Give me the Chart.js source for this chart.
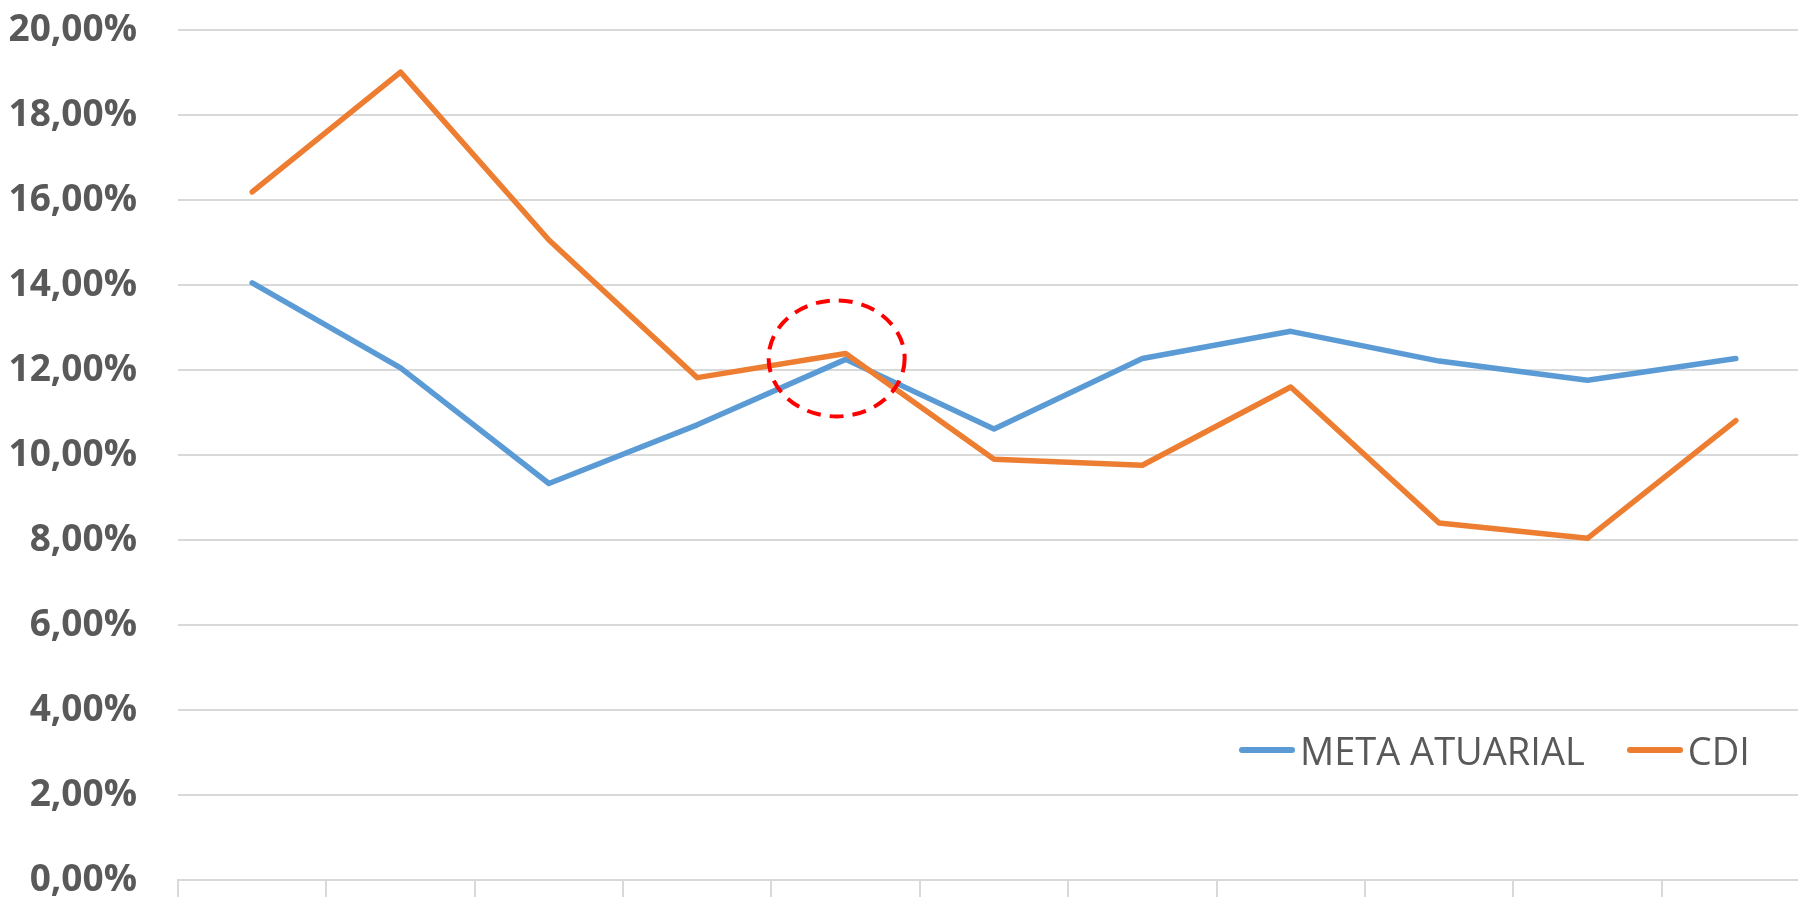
<!DOCTYPE html>
<html>
<head>
<meta charset="utf-8">
<script src="https://cdn.jsdelivr.net/npm/chart.js@4.4.1/dist/chart.umd.min.js"></script>
<style>
  html, body { margin: 0; padding: 0; background: #fff; overflow: hidden; }
  #wrap { position: relative; width: 1812px; height: 897px; }
  #legend {
    position: absolute; left: 1239px; top: 724px;
    display: flex; align-items: center;
    font-family: "Open Sans", sans-serif; font-size: 38px; color: #595959;
  }
  #legend .item { display: flex; align-items: center; margin-right: 42px; }
  #legend .swatch { width: 56px; height: 6px; border-radius: 3px; margin-right: 5px; }
</style>
</head>
<body>
<div id="wrap">
  <canvas id="chart"></canvas>
  <div id="legend"></div>
</div>
<script>
// 11 periodos, sem rotulos no eixo X
const categories = ["", "", "", "", "", "", "", "", "", "", ""];
const metaAtuarial = [14.05, 12.05, 9.33, 10.71, 12.25, 10.61, 12.27, 12.91, 12.21, 11.76, 12.27];
const cdi = [16.19, 19.01, 15.06, 11.82, 12.39, 9.90, 9.76, 11.60, 8.40, 8.04, 10.81];
const yTicks = [0, 2, 4, 6, 8, 10, 12, 14, 16, 18, 20];
const destaqueIndex = 4; // ponto circulado em vermelho

const series = [
  { label: "META ATUARIAL", data: metaAtuarial, color: "#5b9bd5", order: 2 },
  { label: "CDI", data: cdi, color: "#ed7d31", order: 1 },
];

// circulo tracejado vermelho em volta do ponto destacado
const circlePlugin = {
  id: "destaque",
  afterDatasetsDraw(chart) {
    const x = chart.scales.x.getPixelForValue(destaqueIndex);
    const y = chart.scales.y.getPixelForValue(cdi[destaqueIndex]);
    const ctx = chart.ctx;
    ctx.save();
    ctx.strokeStyle = "#ff0000";
    ctx.lineWidth = 4;
    ctx.setLineDash([14, 9]);
    ctx.beginPath();
    ctx.ellipse(x - 9, y + 5, 68, 58, 0, 0, Math.PI * 2);
    ctx.stroke();
    ctx.restore();
  },
};

const ctx = document.getElementById("chart").getContext("2d");
new Chart(ctx, {
  type: "line",
  data: {
    labels: categories,
    datasets: series.map((s) => ({
      label: s.label,
      data: s.data,
      borderColor: s.color,
      backgroundColor: s.color,
      borderWidth: 5.5,
      borderCapStyle: "round",
      borderJoinStyle: "round",
      pointRadius: 0,
      tension: 0,
      fill: false,
      order: s.order,
    })),
  },
  options: {
    responsive: true,
    maintainAspectRatio: false,
    animation: false,
    layout: { padding: { top: 30, right: 2, bottom: 0, left: 0 } },
    plugins: { legend: { display: false }, tooltip: { enabled: false } },
    scales: {
      x: {
        offset: true,
        grid: {
          offset: true,
          drawOnChartArea: false,
          drawTicks: true,
          tickLength: 17,
          color: "#d9d9d9",
          lineWidth: 2,
        },
        border: { display: true, color: "#d9d9d9", width: 2 },
        ticks: { display: false },
      },
      y: {
        min: 0,
        max: 20,
        afterBuildTicks: (scale) => {
          scale.ticks = yTicks.map((v) => ({ value: v }));
        },
        afterFit: (scale) => {
          scale.width = 178;
          scale.paddingTop = 0;
          scale.paddingBottom = 0;
        },
        grid: { color: "#d9d9d9", lineWidth: 2, drawTicks: false },
        border: { display: false },
        ticks: {
          padding: 41,
          color: "#595959",
          font: { family: "Open Sans", size: 37, weight: "bold" },
          callback: (v) => v.toFixed(2).replace(".", ",") + "%",
        },
      },
    },
  },
  plugins: [circlePlugin],
});

// legenda em HTML
const legend = document.getElementById("legend");
series.forEach((s) => {
  const item = document.createElement("div");
  item.className = "item";
  item.innerHTML = `<span class="swatch" style="background:${s.color}"></span><span>${s.label}</span>`;
  legend.appendChild(item);
});
</script>
</body>
</html>
